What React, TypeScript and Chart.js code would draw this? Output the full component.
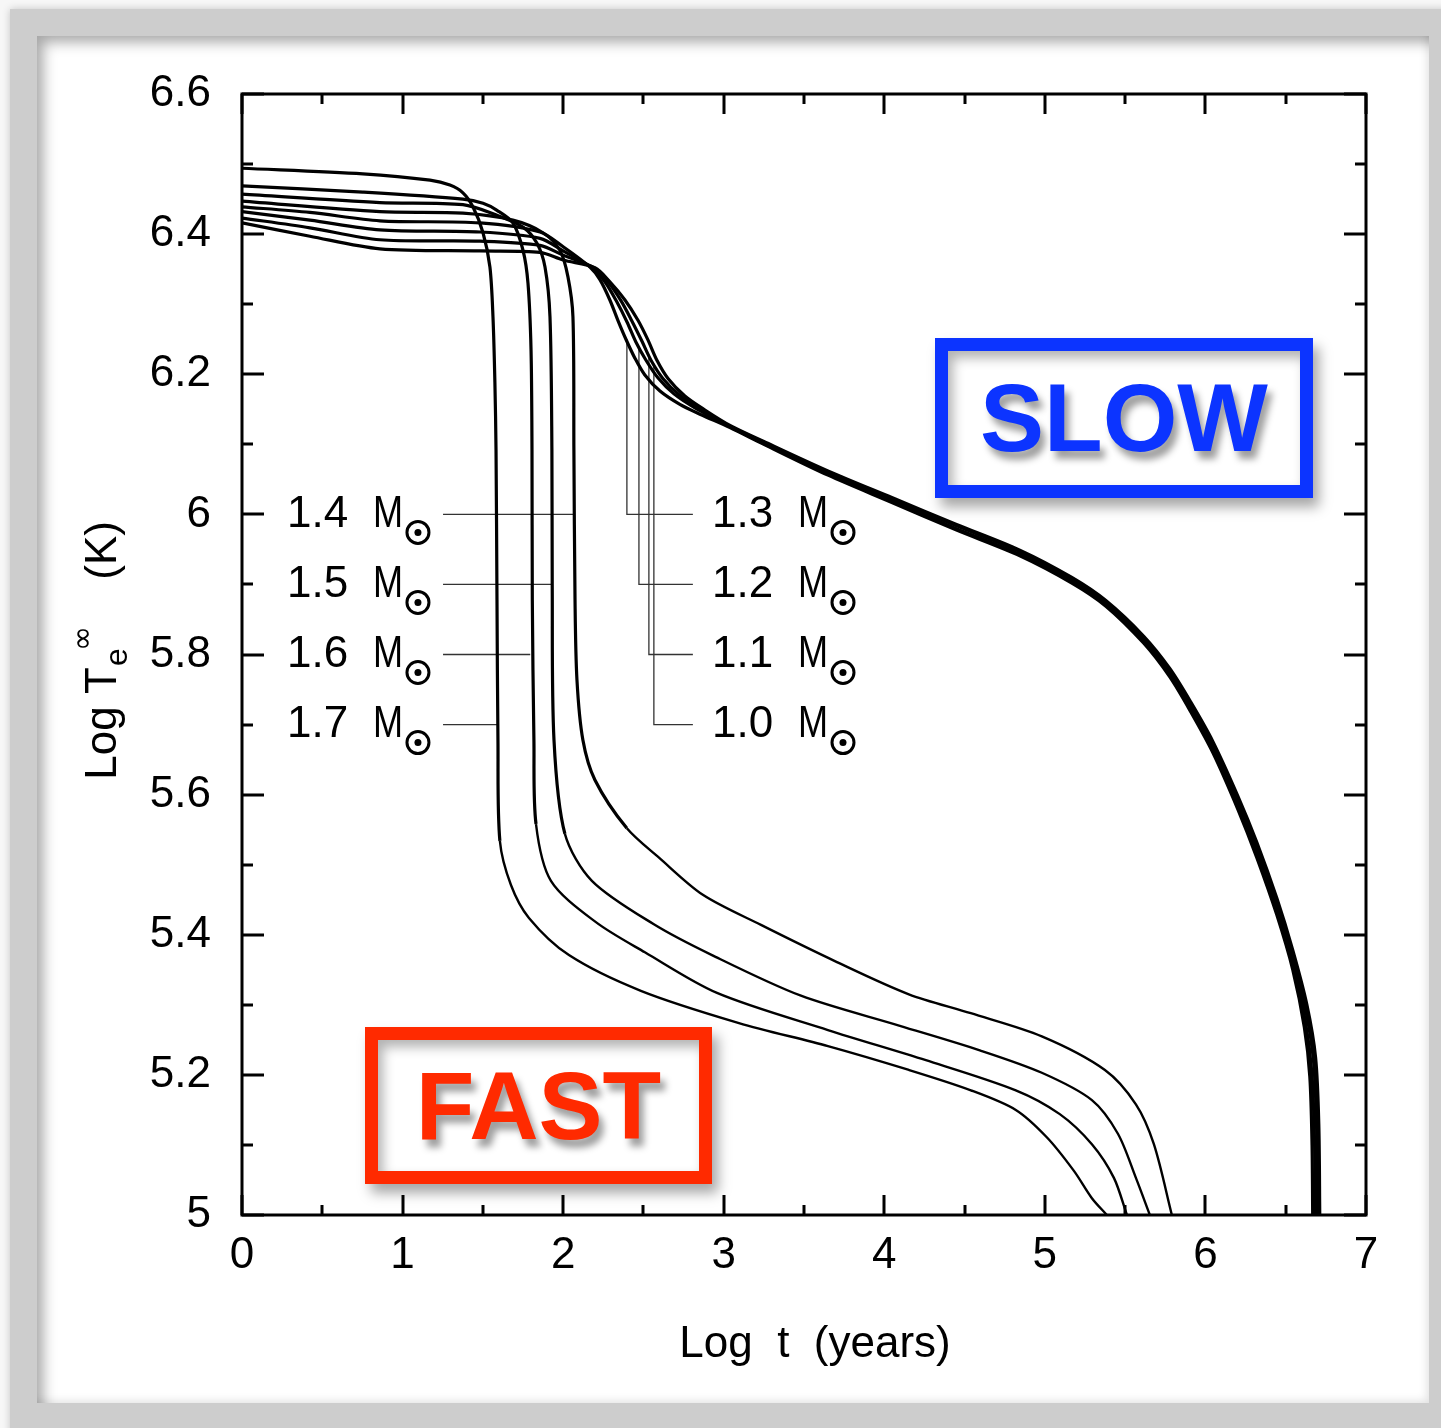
import React, { useEffect, useRef } from 'react';
import { Chart, registerables } from 'chart.js';

Chart.register(...registerables);

// ---------- axes ----------
const X_MIN = 0;
const X_MAX = 7;
const Y_MIN = 5;
const Y_MAX = 6.6;
const xTickValues = [0, 1, 2, 3, 4, 5, 6, 7];
const xTickLabels = ['0', '1', '2', '3', '4', '5', '6', '7'];
const yTickValues = [5, 5.2, 5.4, 5.6, 5.8, 6, 6.2, 6.4, 6.6];
const yTickLabels = ['5', '5.2', '5.4', '5.6', '5.8', '6', '6.2', '6.4', '6.6'];
const xMinorStep = 0.5;
const yMinorStep = 0.1;
const xTitle = 'Log  t  (years)';
const yTitleMain = 'Log T';
const yTitleSub = 'e';
const yTitleSup = '∞';
const yTitleUnit = '(K)';

// ---------- cooling curves [log t, log Te] ----------
const masses = ['1.7', '1.6', '1.5', '1.4', '1.3', '1.2', '1.1', '1.0'];

const curve17: [number, number][] = [
  [0, 6.494], [0.753, 6.486], [1.171, 6.477], [1.295, 6.47], [1.376, 6.459], [1.438, 6.439],
  [1.501, 6.402], [1.544, 6.353], [1.563, 6.282], [1.575, 6.188], [1.582, 6.092], [1.588, 5.878],
  [1.594, 5.678], [1.606, 5.534], [1.675, 5.471], [1.787, 5.424], [2.036, 5.371], [2.484, 5.32],
  [3.095, 5.274], [3.649, 5.241], [4.153, 5.207], [4.539, 5.178], [4.819, 5.15], [5.012, 5.111],
  [5.181, 5.063], [5.293, 5.024], [5.386, 5.0],
];
const curve16: [number, number][] = [
  [0, 6.469], [0.753, 6.46], [1.376, 6.45], [1.501, 6.444], [1.588, 6.434], [1.687, 6.416],
  [1.75, 6.377], [1.781, 6.33], [1.8, 6.235], [1.806, 6.092], [1.808, 5.878], [1.818, 5.678],
  [1.831, 5.558], [1.924, 5.477], [2.204, 5.418], [2.509, 5.375], [2.958, 5.317], [3.649, 5.264],
  [4.259, 5.221], [4.819, 5.178], [5.093, 5.144], [5.293, 5.101], [5.43, 5.053], [5.511, 5.0],
];
const curve15: [number, number][] = [
  [0, 6.457], [0.859, 6.445], [1.376, 6.442], [1.588, 6.427], [1.75, 6.41], [1.837, 6.387],
  [1.887, 6.353], [1.918, 6.282], [1.93, 6.092], [1.932, 5.901], [1.943, 5.678], [2.011, 5.544],
  [2.179, 5.477], [2.565, 5.415], [2.927, 5.371], [3.481, 5.313], [4.097, 5.27], [4.595, 5.235],
  [4.981, 5.203], [5.293, 5.164], [5.455, 5.116], [5.567, 5.053], [5.654, 5.0],
];
const curve14: [number, number][] = [
  [0, 6.447], [0.859, 6.432], [1.376, 6.43], [1.687, 6.42], [1.874, 6.402], [1.98, 6.377],
  [2.03, 6.339], [2.061, 6.282], [2.067, 6.092], [2.074, 5.878], [2.086, 5.764], [2.123, 5.678],
  [2.198, 5.621], [2.397, 5.552], [2.597, 5.51], [2.87, 5.457], [3.232, 5.414], [3.705, 5.361],
  [4.153, 5.315], [4.539, 5.288], [4.981, 5.255], [5.374, 5.207], [5.567, 5.158], [5.679, 5.101],
  [5.791, 5.0],
];
const curve13: [number, number][] = [
  [0, 6.439], [0.423, 6.431], [0.859, 6.419], [1.482, 6.416], [1.856, 6.403], [2.0, 6.382],
  [2.167, 6.353], [2.229, 6.335], [2.291, 6.306], [2.341, 6.277], [2.391, 6.25], [2.447, 6.223],
  [2.509, 6.199], [2.603, 6.176], [2.727, 6.157], [2.852, 6.143], [3.039, 6.124],
  [3.25, 6.1], [3.649, 6.056], [4.047, 6.017], [4.446, 5.978], [4.844, 5.941], [5.168, 5.902],
  [5.38, 5.869], [5.616, 5.816], [5.778, 5.768], [5.909, 5.718], [6.046, 5.66], [6.202, 5.579],
  [6.32, 5.51], [6.445, 5.428], [6.544, 5.35], [6.616, 5.268], [6.65, 5.198], [6.664, 5.1], [6.668, 5.0],
];
const curve12: [number, number][] = [
  [0, 6.432], [0.423, 6.42], [0.859, 6.406], [1.482, 6.403], [1.856, 6.394], [2.0, 6.376],
  [2.179, 6.352], [2.26, 6.332], [2.335, 6.303], [2.397, 6.275], [2.453, 6.246], [2.516, 6.22],
  [2.59, 6.195], [2.69, 6.172], [2.821, 6.152], [3.039, 6.125],
  [3.25, 6.101], [3.649, 6.058], [4.047, 6.019], [4.446, 5.98], [4.844, 5.943], [5.168, 5.904],
  [5.38, 5.871], [5.616, 5.819], [5.778, 5.772], [5.909, 5.722], [6.046, 5.665], [6.202, 5.585],
  [6.32, 5.517], [6.445, 5.435], [6.544, 5.358], [6.622, 5.277], [6.662, 5.205], [6.679, 5.11], [6.684, 5.0],
];
const curve11: [number, number][] = [
  [0, 6.423], [0.423, 6.409], [0.859, 6.392], [1.482, 6.39], [1.856, 6.384], [2.0, 6.37],
  [2.192, 6.352], [2.279, 6.332], [2.36, 6.305], [2.428, 6.276], [2.491, 6.247], [2.547, 6.22],
  [2.621, 6.194], [2.721, 6.171], [2.852, 6.15], [3.039, 6.126],
  [3.25, 6.103], [3.649, 6.06], [4.047, 6.022], [4.446, 5.984], [4.844, 5.947], [5.168, 5.908],
  [5.38, 5.875], [5.616, 5.823], [5.778, 5.777], [5.909, 5.728], [6.046, 5.671], [6.202, 5.592],
  [6.32, 5.525], [6.445, 5.445], [6.544, 5.37], [6.627, 5.29], [6.674, 5.218], [6.693, 5.12], [6.698, 5.0],
];
const curve10: [number, number][] = [
  [0, 6.416], [0.423, 6.397], [0.859, 6.379], [1.482, 6.376], [1.856, 6.374], [2.0, 6.363],
  [2.198, 6.352], [2.291, 6.332], [2.385, 6.306], [2.466, 6.277], [2.528, 6.249], [2.584, 6.22],
  [2.653, 6.194], [2.758, 6.169], [2.883, 6.149], [3.039, 6.127],
  [3.25, 6.104], [3.649, 6.062], [4.047, 6.024], [4.446, 5.986], [4.844, 5.949], [5.168, 5.91],
  [5.38, 5.877], [5.616, 5.826], [5.778, 5.78], [5.909, 5.732], [6.046, 5.676], [6.202, 5.598],
  [6.32, 5.532], [6.445, 5.452], [6.544, 5.378], [6.632, 5.3], [6.686, 5.225], [6.706, 5.13], [6.712, 5.0],
];

const curves = [curve17, curve16, curve15, curve14, curve13, curve12, curve11, curve10];
const isFast = [true, true, true, true, false, false, false, false];

// ---------- mass labels and their leader lines (data coords) ----------
const leftLabelMasses = ['1.4', '1.5', '1.6', '1.7'];
const rightLabelMasses = ['1.3', '1.2', '1.1', '1.0'];
const labelRowsY = [6.0, 5.9, 5.8, 5.7];
const leftLabelX = 0.28;
const rightLabelX = 2.927;
const leftLeaderStartX = 1.252;
const leftLeaderEndX = [2.063, 1.925, 1.795, 1.588];
const rightLeaderX = [2.397, 2.472, 2.534, 2.565];
const rightLeaderTopY = [6.25, 6.24, 6.228, 6.215];
const rightLeaderEndX = 2.808;

// ---------- annotations ----------
const slowText = 'SLOW';
const fastText = 'FAST';
const slowColor = 'rgb(12,52,255)';
const fastColor = 'rgb(255,42,0)';

const FONT = '"Liberation Sans", Arial, "DejaVu Sans", sans-serif';

const drawSun = (ctx: CanvasRenderingContext2D, cx: number, cy: number) => {
  ctx.beginPath();
  ctx.lineWidth = 3;
  ctx.arc(cx, cy, 11, 0, Math.PI * 2);
  ctx.stroke();
  ctx.beginPath();
  ctx.arc(cx, cy, 3.5, 0, Math.PI * 2);
  ctx.fill();
};

const pgPlugin = {
  id: 'pgAxes',
  afterDatasetsDraw(chart: any) {
    const { ctx, chartArea: a } = chart;
    const xs = chart.scales.x;
    const ys = chart.scales.y;
    ctx.save();
    ctx.strokeStyle = '#000';
    ctx.fillStyle = '#000';
    ctx.lineWidth = 3;
    ctx.lineCap = 'butt';
    // ticks
    const nx = Math.round((X_MAX - X_MIN) / xMinorStep);
    for (let i = 0; i <= nx; i++) {
      const v = X_MIN + i * xMinorStep;
      const px = Math.round(xs.getPixelForValue(v));
      const len = i % 2 === 0 ? 20 : 10;
      ctx.beginPath();
      ctx.moveTo(px, a.bottom);
      ctx.lineTo(px, a.bottom - len);
      ctx.moveTo(px, a.top);
      ctx.lineTo(px, a.top + len);
      ctx.stroke();
    }
    const ny = Math.round((Y_MAX - Y_MIN) / yMinorStep);
    for (let i = 0; i <= ny; i++) {
      const v = Y_MIN + i * yMinorStep;
      const py = Math.round(ys.getPixelForValue(v));
      const len = i % 2 === 0 ? 22 : 11;
      ctx.beginPath();
      ctx.moveTo(a.left, py);
      ctx.lineTo(a.left + len, py);
      ctx.moveTo(a.right, py);
      ctx.lineTo(a.right - len, py);
      ctx.stroke();
    }
    ctx.strokeRect(a.left, a.top, a.right - a.left, a.bottom - a.top);

    // tick labels
    ctx.font = `44px ${FONT}`;
    ctx.textAlign = 'center';
    ctx.textBaseline = 'middle';
    xTickValues.forEach((v, i) => {
      ctx.fillText(xTickLabels[i], xs.getPixelForValue(v), a.bottom + 41);
    });
    ctx.textAlign = 'right';
    yTickValues.forEach((v, i) => {
      ctx.fillText(yTickLabels[i], a.left - 31, ys.getPixelForValue(v));
    });

    // x title
    ctx.textAlign = 'center';
    ctx.fillText(xTitle, (a.left + a.right) / 2 + 11, a.bottom + 130);

    // y title (rotated)
    ctx.save();
    ctx.translate(116, ys.getPixelForValue(5.6) - 15);
    ctx.rotate(-Math.PI / 2);
    ctx.textAlign = 'left';
    ctx.textBaseline = 'alphabetic';
    ctx.font = `44px ${FONT}`;
    ctx.fillText(yTitleMain, 0, 0);
    const w = ctx.measureText(yTitleMain).width;
    ctx.font = `32px ${FONT}`;
    ctx.fillText(yTitleSub, w + 1, 11);
    ctx.font = `30px "DejaVu Sans", ${FONT}`;
    ctx.fillText(yTitleSup, w + 16, -24);
    ctx.font = `44px ${FONT}`;
    ctx.fillText(yTitleUnit, 200, 0);
    ctx.restore();

    // mass labels
    ctx.textAlign = 'left';
    ctx.textBaseline = 'middle';
    const drawLabel = (mass: string, xv: number, yv: number) => {
      const px = xs.getPixelForValue(xv);
      const py = ys.getPixelForValue(yv);
      ctx.font = `44px ${FONT}`;
      ctx.fillText(mass, px, py);
      ctx.save();
      ctx.translate(px + 86, py);
      ctx.scale(0.82, 1);
      ctx.fillText('M', 0, 0);
      ctx.restore();
      drawSun(ctx, px + 131, py + 18);
    };
    leftLabelMasses.forEach((m, i) => drawLabel(m, leftLabelX, labelRowsY[i]));
    rightLabelMasses.forEach((m, i) => drawLabel(m, rightLabelX, labelRowsY[i]));
    ctx.restore();
  },
};

export default function App() {
  const ref = useRef<HTMLCanvasElement | null>(null);
  useEffect(() => {
    if (!ref.current) return;
    const curveSets = curves.map((c, i) => ({
      label: masses[i],
      data: c.map(([x, y]) => ({ x, y })),
      borderColor: '#000',
      borderWidth: 3.2,
      pointRadius: 0,
      tension: 0.3,
      fill: false,
      segment: isFast[i]
        ? { borderWidth: (s: any) => (s.p0.parsed.y < 5.6 ? 2.4 : 3.2) }
        : undefined,
    }));
    const leftLeaders = leftLabelMasses.map((m, i) => ({
      label: 'leader ' + m,
      data: [
        { x: leftLeaderStartX, y: labelRowsY[i] },
        { x: leftLeaderEndX[i], y: labelRowsY[i] },
      ],
      borderColor: '#333',
      borderWidth: 1.3,
      pointRadius: 0,
      tension: 0,
    }));
    const rightLeaders = rightLabelMasses.map((m, i) => ({
      label: 'leader ' + m,
      data: [
        { x: rightLeaderX[i], y: rightLeaderTopY[i] },
        { x: rightLeaderX[i], y: labelRowsY[i] },
        { x: rightLeaderEndX, y: labelRowsY[i] },
      ],
      borderColor: '#333',
      borderWidth: 1.3,
      pointRadius: 0,
      tension: 0,
    }));
    const chart = new Chart(ref.current, {
      type: 'line',
      data: { datasets: [...curveSets, ...leftLeaders, ...rightLeaders] as any },
      options: {
        responsive: false,
        animation: false,
        events: [],
        layout: { padding: { left: 242, top: 94, right: 75, bottom: 213 } },
        plugins: { legend: { display: false }, tooltip: { enabled: false }, title: { display: false } },
        scales: {
          x: { type: 'linear', min: X_MIN, max: X_MAX, display: false },
          y: { type: 'linear', min: Y_MIN, max: Y_MAX, display: false },
        },
      },
      plugins: [pgPlugin],
    });
    return () => chart.destroy();
  }, []);

  const boxText = (color: string): React.CSSProperties => ({
    fontFamily: FONT,
    fontWeight: 700,
    fontSize: 96,
    lineHeight: 1,
    color,
    textShadow: '5px 8px 7px rgba(0,0,0,0.38)',
  });

  return (
    <div style={{ position: 'absolute', left: 0, top: 0, width: 1441, height: 1428, background: '#f7f7f7', overflow: 'hidden' }}>
      <div style={{ position: 'absolute', left: 10, top: 9, width: 1441, height: 1428, background: '#cdcdcd', boxShadow: '0 0 8px rgba(0,0,0,0.2)' }} />
      <div
        style={{
          position: 'absolute', left: 37, top: 36, width: 1392, height: 1367, background: '#fff',
          boxShadow: 'inset 12px 12px 14px -6px rgba(0,0,0,0.35), inset -5px -5px 8px -3px rgba(0,0,0,0.12)',
        }}
      />
      <canvas ref={ref} width={1441} height={1428} style={{ position: 'absolute', left: 0, top: 0, width: 1441, height: 1428 }} />
      <div
        style={{
          position: 'absolute', left: 935, top: 338, width: 378, height: 160, boxSizing: 'border-box',
          border: `13px solid ${slowColor}`, display: 'flex', alignItems: 'center', justifyContent: 'center',
          boxShadow: '6px 9px 12px rgba(0,0,0,0.35), inset 5px 7px 12px rgba(0,0,0,0.3)',
        }}
      >
        <span style={boxText(slowColor)}>{slowText}</span>
      </div>
      <div
        style={{
          position: 'absolute', left: 365, top: 1027, width: 347, height: 157, boxSizing: 'border-box',
          border: `13px solid ${fastColor}`, display: 'flex', alignItems: 'center', justifyContent: 'center',
          boxShadow: '6px 9px 12px rgba(0,0,0,0.35), inset 5px 7px 12px rgba(0,0,0,0.3)',
        }}
      >
        <span style={boxText(fastColor)}>{fastText}</span>
      </div>
    </div>
  );
}
